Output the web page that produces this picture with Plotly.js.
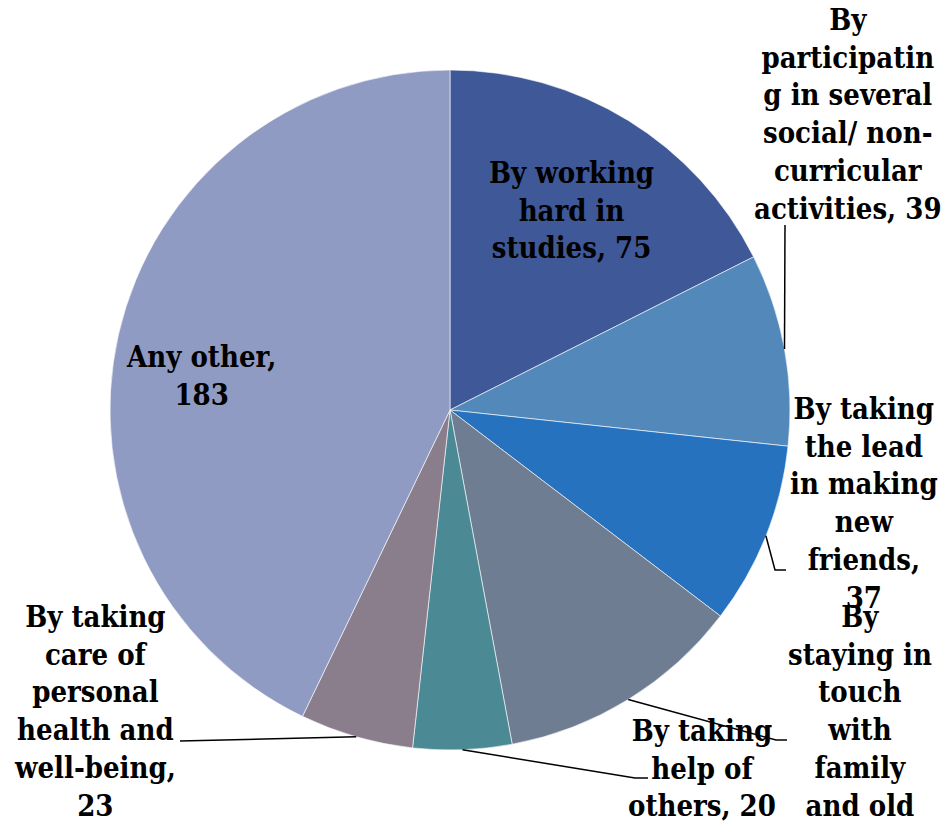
<!DOCTYPE html>
<html>
<head>
<meta charset="utf-8">
<script src="https://cdn.plot.ly/plotly-3.0.1.min.js"></script>
<style>
html,body{margin:0;padding:0;background:#fff;}
#chart{width:945px;height:824px;}
</style>
</head>
<body>
<div id="chart"></div>
<script>
// ---- data ----
var categories = [
  "By working hard in studies",
  "By participating in several social/ non-curricular activities",
  "By taking the lead in making new friends",
  "By staying in touch with family and old friends",
  "By taking help of others",
  "By taking care of personal health and well-being",
  "Any other"
];
var values = [75, 39, 37, 50, 20, 23, 183];
var labelTexts = [
  "By working<br>hard in<br>studies, 75",
  "By<br>participatin<br>g in several<br>social/ non-<br>curricular<br>activities, 39",
  "By taking<br>the lead<br>in making<br>new<br>friends,<br>37",
  "By<br>staying in<br>touch<br>with<br>family<br>and old<br>friends, 50",
  "By taking<br>help of<br>others, 20",
  "By taking<br>care of<br>personal<br>health and<br>well-being,<br>23",
  "Any other,<br>183"
];
var colors = ["#3F5898", "#5389BA", "#2672BE", "#6F7D93", "#4B8A95", "#8A7E8D", "#8F9BC2"];

// ---- layout geometry (pixels) ----
var W = 945, H = 824;
var cx = 450, cy = 410, R = 340;
var labelPos = [[571, 211], [848, 114], [864, 503], [860, 730], [702, 768], [95, 711], [201, 376]];
// leader line points after the pie-edge start (null = no leader)
var leaderPts = [
  null,
  [[785, 225]],
  [[775, 570], [786, 570]],
  [[776, 740], [787, 740]],
  [[635, 778], [648, 778]],
  [[180, 741]],
  null
];

function px(x){ return x / W; }
function py(y){ return 1 - y / H; }

var total = values.reduce(function(a,b){return a+b;}, 0);
var shapes = [];
var annotations = [];
var cum = 0;
var FONT = "DejaVu Serif Condensed, DejaVu Serif, Liberation Serif, serif";
for (var i = 0; i < values.length; i++) {
  var mid = (cum + values[i] / 2) / total * 2 * Math.PI;
  cum += values[i];
  if (leaderPts[i]) {
    var sx = cx + R * Math.sin(mid), sy = cy - R * Math.cos(mid);
    var d = "M" + px(sx) + "," + py(sy);
    leaderPts[i].forEach(function(p){ d += " L" + px(p[0]) + "," + py(p[1]); });
    shapes.push({type: "path", xref: "paper", yref: "paper", path: d,
      line: {color: "#000", width: 1.5}});
  }
  annotations.push({
    text: labelTexts[i], xref: "paper", yref: "paper",
    x: px(labelPos[i][0]), y: py(labelPos[i][1]),
    xanchor: "center", yanchor: "middle", align: "center", showarrow: false,
    font: {family: FONT, size: 29, color: "#000", weight: "bold"}
  });
}

var trace = {
  type: "pie",
  labels: categories,
  values: values,
  sort: false,
  direction: "clockwise",
  rotation: 0,
  textinfo: "none",
  hoverinfo: "label+value",
  marker: {colors: colors, line: {color: "#ffffff", width: 0.6}},
  domain: {x: [px(cx - R), px(cx + R)], y: [py(cy + R), py(cy - R)]}
};

var layout = {
  width: W, height: H,
  margin: {l: 0, r: 0, t: 0, b: 0},
  paper_bgcolor: "#fff",
  showlegend: false,
  shapes: shapes,
  annotations: annotations
};

Plotly.newPlot("chart", [trace], layout, {staticPlot: true});
</script>
</body>
</html>
